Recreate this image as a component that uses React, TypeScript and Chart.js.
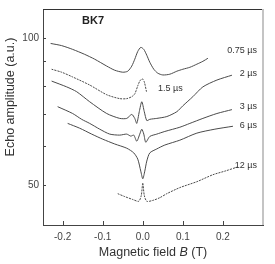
import React, { useEffect, useRef } from 'react';
import { Chart, registerables } from 'chart.js';

Chart.register(...registerables);

// ---- data ----
const seriesNames = ['0.75 µs', '1.5 µs', '2 µs', '3 µs', '6 µs', '12 µs'];

const field075 = [-0.23, -0.2025, -0.175, -0.145, -0.12, -0.09, -0.07, -0.05, -0.0375, -0.0275, -0.02, -0.0125, -0.005, 0.0025, 0.01, 0.0175, 0.0275, 0.0375, 0.05, 0.0675, 0.085, 0.1, 0.1175, 0.135, 0.15, 0.1625];
const amp075 = [97.6, 96.6, 94.9, 92.7, 90.6, 87.7, 86.0, 85.2, 85.6, 87.7, 90.6, 94.0, 95.8, 94.9, 92.3, 89.3, 86.4, 84.8, 84.1, 84.4, 85.6, 86.4, 87.2, 88.5, 89.7, 91.0];

const field15 = [-0.2275, -0.2025, -0.175, -0.1325, -0.09, -0.0575, -0.04, -0.0275, -0.02, -0.0125, -0.0075, -0.00125, 0.00375, 0.00925];
const amp15 = [86.4, 85.2, 83.3, 80.2, 76.6, 75.2, 75.2, 75.9, 76.9, 79.9, 81.7, 82.6, 81.4, 77.7];

const field2 = [-0.2275, -0.19, -0.165, -0.1325, -0.09, -0.0575, -0.04, -0.0275, -0.02, -0.015, -0.00875, -0.0025, 0.00375, 0.01, 0.0175, 0.035, 0.06, 0.085, 0.1, 0.125, 0.15, 0.185, 0.2225];
const amp2 = [81.7, 79.5, 77.7, 74.1, 70.1, 68.5, 68.5, 69.8, 68.5, 66.9, 70.7, 74.1, 70.7, 67.8, 68.2, 68.5, 69.1, 70.7, 72.7, 75.9, 79.5, 82.1, 84.0];

const field3 = [-0.2125, -0.175, -0.1525, -0.1325, -0.1075, -0.0825, -0.0575, -0.04, -0.03, -0.0225, -0.015, -0.0075, -0.0025, 0.0025, 0.0075, 0.0175, 0.035, 0.055, 0.0925, 0.1175, 0.15, 0.185, 0.2225];
const amp3 = [72.4, 70.1, 68.2, 66.9, 65.1, 63.6, 63.3, 63.6, 63.0, 63.3, 61.5, 63.6, 65.1, 63.6, 61.2, 62.9, 63.6, 64.4, 65.7, 66.9, 68.5, 70.1, 71.4];

const field6 = [-0.1875, -0.1575, -0.1275, -0.1, -0.07, -0.04, -0.0225, -0.0125, -0.005, 0, 0.005, 0.01, 0.0175, 0.035, 0.055, 0.0925, 0.135, 0.18, 0.225];
const amp6 = [66.9, 65.4, 63.6, 62.1, 60.7, 59.5, 58.2, 56.5, 53.4, 51.5, 53.4, 56.0, 58.2, 59.3, 60.4, 61.8, 63.9, 65.1, 66.0];

const field12 = [-0.0625, -0.045, -0.025, -0.01, -0.00375, 0, 0.00375, 0.01, 0.025, 0.0425, 0.06, 0.0925, 0.135, 0.175, 0.205, 0.235];
const amp12 = [48.0, 47.35, 46.7, 46.3, 47.6, 50.5, 47.6, 46.3, 46.5, 47.1, 48.0, 49.4, 50.8, 52.5, 53.4, 54.4];

const seriesFields = [field075, field15, field2, field3, field6, field12];
const seriesAmps = [amp075, amp15, amp2, amp3, amp6, amp12];
const seriesDotted = [false, true, false, false, false, true];

const xTicks = [-0.2, -0.1, 0, 0.1, 0.2];
const yTicks = [50, 60, 70, 80, 90, 100];
const yLabeled = [50, 100];

const sampleLabel = 'BK7';
const yTitle = 'Echo amplitude (a.u.)';
const xTitleParts = ['Magnetic field ', 'B', ' (T)'];

const FONT = 'Liberation Sans, Arial, Helvetica, sans-serif';

const decorPlugin = {
  id: 'decor',
  afterDraw(chart: any) {
    const { ctx, chartArea: ca, scales } = chart;
    const xs = scales.x;
    const ys = scales.y;
    ctx.save();
    // frame: top and right
    ctx.strokeStyle = '#333';
    ctx.lineWidth = 1;
    ctx.beginPath();
    ctx.moveTo(ca.left, ca.top - 0.5);
    ctx.lineTo(ca.right, ca.top - 0.5);
    ctx.stroke();
    ctx.strokeStyle = '#c4c4c4';
    ctx.lineWidth = 2;
    ctx.beginPath();
    ctx.moveTo(ca.right, ca.top - 1);
    ctx.lineTo(ca.right, ca.bottom);
    ctx.stroke();
    // inward ticks
    ctx.strokeStyle = '#444';
    ctx.lineWidth = 1;
    ctx.beginPath();
    xTicks.forEach((v) => {
      const px = Math.round(xs.getPixelForValue(v)) + 0.5;
      ctx.moveTo(px, ca.bottom);
      ctx.lineTo(px, ca.bottom - 4);
    });
    yTicks.forEach((v) => {
      const py = Math.round(ys.getPixelForValue(v)) + 0.5;
      ctx.moveTo(ca.left, py);
      ctx.lineTo(ca.left + 3, py);
    });
    ctx.stroke();

    // sample label
    ctx.fillStyle = '#222';
    ctx.font = `bold 11px ${FONT}`;
    ctx.textAlign = 'left';
    ctx.textBaseline = 'middle';
    ctx.fillText(sampleLabel, 82, 21);

    // curve labels
    ctx.fillStyle = '#333';
    ctx.font = `9px ${FONT}`;
    const rightLabels: [number, number][] = [
      [0, 51], [2, 74], [3, 107], [4, 126], [5, 166],
    ];
    ctx.textAlign = 'right';
    rightLabels.forEach(([i, y]) => ctx.fillText(seriesNames[i], 257, y));
    ctx.textAlign = 'left';
    ctx.fillText(seriesNames[1], 158, 89);

    // y title
    ctx.fillStyle = '#333';
    ctx.font = `12.5px ${FONT}`;
    ctx.save();
    ctx.translate(11, 97);
    ctx.rotate(-Math.PI / 2);
    ctx.textAlign = 'center';
    ctx.textBaseline = 'middle';
    ctx.fillText(yTitle, 0, 0);
    ctx.restore();

    // x title with italic B
    const fonts = [`12.5px ${FONT}`, `italic 12.5px ${FONT}`, `12.5px ${FONT}`];
    let total = 0;
    const widths = xTitleParts.map((p, i) => {
      ctx.font = fonts[i];
      const w = ctx.measureText(p).width;
      total += w;
      return w;
    });
    let x = (ca.left + ca.right) / 2 - total / 2;
    ctx.textAlign = 'left';
    ctx.textBaseline = 'middle';
    xTitleParts.forEach((p, i) => {
      ctx.font = fonts[i];
      ctx.fillText(p, x, 253);
      x += widths[i];
    });
    ctx.restore();
  },
};

export default function App() {
  const ref = useRef<HTMLCanvasElement>(null);
  useEffect(() => {
    document.body.style.margin = '0';
    const canvas = ref.current!;
    Chart.defaults.font.family = FONT;
    const datasets = seriesNames.map((name, i) => ({
      label: name,
      data: seriesFields[i].map((b, j) => ({ x: b, y: seriesAmps[i][j] })),
      borderColor: '#4a4a4a',
      borderWidth: 1,
      borderDash: seriesDotted[i] ? [2, 1] : [],
      pointRadius: 0,
      tension: 0.25,
      fill: false,
    }));
    const chart = new Chart(canvas, {
      type: 'line',
      data: { datasets },
      plugins: [decorPlugin],
      options: {
        animation: false,
        responsive: false,
        layout: { padding: { top: 7, right: 12, left: 0, bottom: 0 } },
        plugins: { legend: { display: false }, tooltip: { enabled: false } },
        scales: {
          x: {
            type: 'linear',
            min: -0.249,
            max: 0.3,
            afterBuildTicks: (s: any) => {
              s.ticks = xTicks.map((v) => ({ value: v }));
            },
            afterFit: (s: any) => {
              s.height = 39;
            },
            grid: { display: false, drawTicks: false },
            border: { display: true, color: '#444', width: 1 },
            ticks: {
              color: '#444',
              font: { size: 10, family: FONT },
              padding: 6,
              maxRotation: 0,
              autoSkip: false,
              callback: (v: any) => Number(v).toFixed(1),
            },
          },
          y: {
            type: 'logarithmic',
            min: 41.4,
            max: 114.3,
            afterBuildTicks: (s: any) => {
              s.ticks = yTicks.map((v) => ({ value: v }));
            },
            afterFit: (s: any) => {
              s.width = 43;
            },
            grid: { display: false, drawTicks: false },
            border: { display: true, color: '#444', width: 1 },
            ticks: {
              color: '#444',
              font: { size: 10, family: FONT },
              padding: 4,
              autoSkip: false,
              callback: (v: any) => (yLabeled.includes(Number(v)) ? String(v) : ''),
            },
          },
        },
      },
    } as any);
    return () => chart.destroy();
  }, []);
  return (
    <canvas
      ref={ref}
      width={275}
      height={264}
      style={{ display: 'block', width: 275, height: 264 }}
    />
  );
}
